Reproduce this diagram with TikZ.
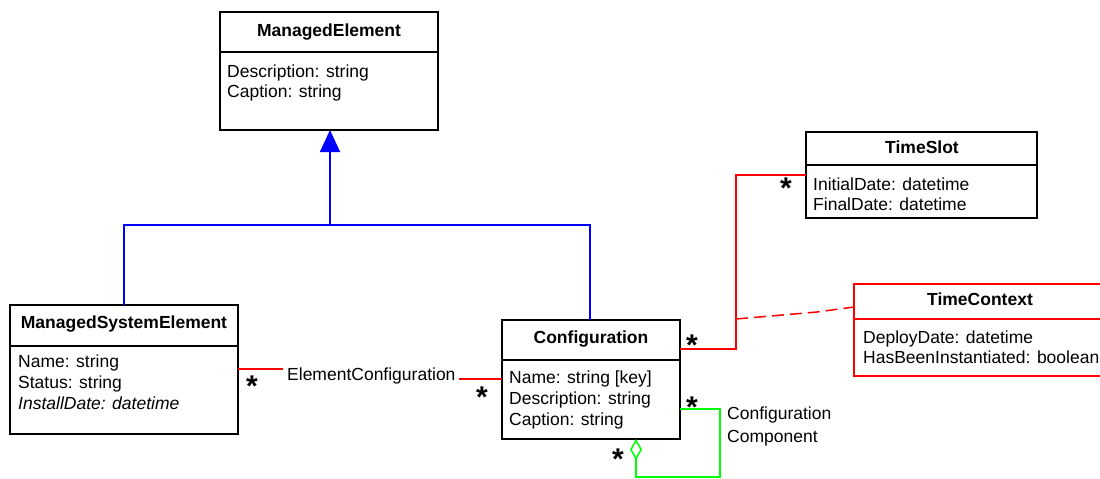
\documentclass[tikz,border=0pt]{standalone}
\usepackage{fontspec}
\setmainfont{Liberation Sans}
\usetikzlibrary{arrows.meta}

\begin{document}
\begin{tikzpicture}[x=1pt,y=-1pt,
  classbox/.style={draw, line width=1.6pt, inner sep=0pt, outer sep=0pt, anchor=north west},
  redbox/.style={classbox, draw=red},
  divider/.style={line width=1.6pt},
  ctitle/.style={font=\fontsize{17.5}{20}\selectfont\bfseries, inner sep=0pt, anchor=base},
  attr/.style={font=\fontsize{17.5}{20}\selectfont, inner sep=0pt, anchor=base west},
  gen/.style={draw=blue, line width=1.6pt},
  assoc/.style={draw=red, line width=1.5pt},
  aggr/.style={draw=green, line width=1.5pt},
  mult/.style={font=\fontsize{30}{30}\selectfont\bfseries, inner sep=0pt, anchor=north}
]
\clip (0,0) rectangle (1100,479);
\fill[white] (0,0) rectangle (1100,479);

% ---- classes ----
% ManagedElement
\node[classbox, minimum width=218pt, minimum height=118pt] (me) at (220,12) {};
\draw[divider] (220,52) -- (438,52);
\node[ctitle] (me-title) at (329,36) {ManagedElement};
\node[attr] (me-a1) at (227,77) {Description: string};
\node[attr] (me-a2) at (227,97) {Caption: string};

% ManagedSystemElement
\node[classbox, minimum width=228pt, minimum height=129pt] (mse) at (10,305) {};
\draw[divider] (10,346) -- (238,346);
\node[ctitle] (mse-title) at (124,328) {ManagedSystemElement};
\node[attr] (mse-a1) at (18,367) {Name: string};
\node[attr] (mse-a2) at (18,388) {Status: string};
\node[attr] (mse-a3) at (18,409) {\itshape InstallDate: datetime};

% Configuration
\node[classbox, minimum width=178pt, minimum height=119pt] (cfg) at (502,320) {};
\draw[divider] (502,360) -- (680,360);
\node[ctitle] (cfg-title) at (591,343) {Configuration};
\node[attr] (cfg-a1) at (509,383) {Name: string [key]};
\node[attr] (cfg-a2) at (509,404) {Description: string};
\node[attr] (cfg-a3) at (509,425) {Caption: string};

% TimeSlot
\node[classbox, minimum width=231pt, minimum height=86pt] (ts) at (806,132) {};
\draw[divider] (806,165) -- (1037,165);
\node[ctitle] (ts-title) at (922,153) {TimeSlot};
\node[attr] (ts-a1) at (813,190) {InitialDate: datetime};
\node[attr] (ts-a2) at (813,210) {FinalDate: datetime};

% TimeContext (association class)
\node[redbox, minimum width=252pt, minimum height=92pt] (tc) at (854,284) {};
\draw[divider, red] (854,319) -- (1106,319);
\node[ctitle] (tc-title) at (980,305) {TimeContext};
\node[attr] (tc-a1) at (863,343) {DeployDate: datetime};
\node[attr] (tc-a2) at (863,363) {HasBeenInstantiated: boolean};

% ---- generalization ----
\coordinate (jl) at (124,225);
\coordinate (jm) at (330,225);
\coordinate (jr) at (590,225);
\draw[gen] (jl |- mse.north) -- (jl) -- (jr) -- (jr |- cfg.north);
\draw[gen, -{Triangle[length=22pt,width=20pt]}] (jm) -- (jm |- me.south);

% ---- ElementConfiguration ----
\node[attr] (ec-label) at (287,380) {ElementConfiguration};
\coordinate (ec1) at (283,369);
\coordinate (ec2) at (459,379);
\draw[assoc] (ec1 -| mse.east) -- (ec1);
\draw[assoc] (ec2) -- (ec2 -| cfg.west);
\node[mult] (m-ec1) at (252,376) {*};
\node[mult] (m-ec2) at (482,387) {*};

% ---- Configuration -- TimeSlot with TimeContext ----
\coordinate (ts1) at (736,349);
\coordinate (ts2) at (736,175);
\draw[assoc] (ts1 -| cfg.east) -- (ts1) -- (ts2) -- (ts2 -| ts.west);
\node[mult] (m-ts1) at (692,335) {*};
\node[mult] (m-ts2) at (786,178) {*};
\coordinate (dk) at (736,319);
\coordinate (dm) at (817,312);
\coordinate (dn) at (840,307);
\draw[assoc, dash pattern=on 12pt off 6pt] (dk) -- (dm) -- (dn -| tc.west);

% ---- ConfigurationComponent (aggregation) ----
\coordinate (g1) at (720,409);
\coordinate (g2) at (720,477);
\coordinate (g3) at (636,477);
\draw[aggr, -{Diamond[open,length=21pt,width=12pt]}] (g1 -| cfg.east) -- (g1) -- (g2) -- (g3) -- (g3 |- cfg.south);
\node[attr] (cc-1) at (727,419) {Configuration};
\node[attr] (cc-2) at (727,442) {Component};
\node[mult] (m-cc1) at (692,397) {*};
\node[mult] (m-cc2) at (618,449) {*};
\end{tikzpicture}
\end{document}
